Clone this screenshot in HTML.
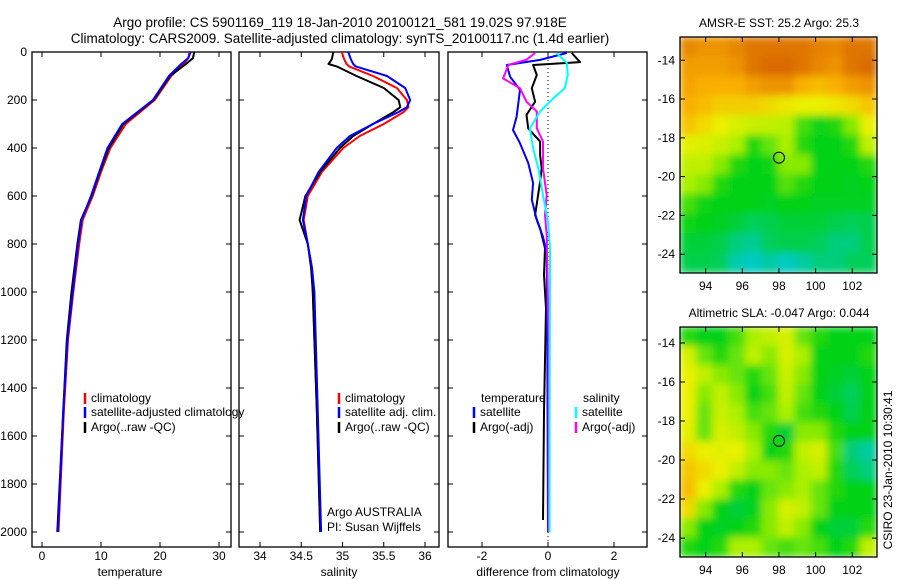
<!DOCTYPE html>
<html><head><meta charset="utf-8">
<style>
html,body{margin:0;padding:0;background:#fff;}
svg{display:block;font-family:"Liberation Sans",sans-serif;}
text{font-size:12px;fill:#000;}
</style></head>
<body>
<svg id="fig" width="900" height="580" viewBox="0 0 900 580">
<defs>
<filter id="blur" x="0" y="0" width="1" height="1"><feGaussianBlur stdDeviation="4" edgeMode="duplicate"/></filter>
<clipPath id="clipMap1"><rect x="680" y="37" width="197" height="236"/></clipPath>
<clipPath id="clipMap2"><rect x="680" y="327" width="197" height="230"/></clipPath>
<clipPath id="clipP1"><rect x="32" y="52" width="199" height="495"/></clipPath>
<clipPath id="clipP2"><rect x="239" y="52" width="200" height="495"/></clipPath>
<clipPath id="clipP3"><rect x="448" y="52" width="199" height="495"/></clipPath>
</defs>
<text x="340" y="27" text-anchor="middle" style="font-size:13.5px">Argo profile: CS 5901169_119 18-Jan-2010 20100121_581 19.02S 97.918E</text>
<text x="340" y="43" text-anchor="middle" style="font-size:13.5px">Climatology: CARS2009. Satellite-adjusted climatology: synTS_20100117.nc (1.4d earlier)</text>
<text transform="translate(892,470) rotate(-90)" text-anchor="middle">CSIRO 23-Jan-2010 10:30:41</text>
</svg>
<script>
// ---------- data ----------
const tDepth = [0,25,50,100,200,300,400,500,600,700,800,1000,1200,1500,2000];
const tClim  = [25.0,24.8,24.0,21.9,19.1,14.2,11.6,10.0,8.6,6.9,6.3,5.3,4.4,3.7,2.8];
const tSat   = [25.2,24.8,23.6,21.5,18.8,13.6,11.1,9.7,8.3,6.7,6.1,5.2,4.3,3.6,2.7];
const tArgo  = [25.8,25.6,24.4,21.7,18.9,13.8,11.3,9.8,8.4,6.6,6.0,5.0,4.2,3.6,2.6];
const sDepth = [0,30,50,60,100,150,200,230,250,300,350,400,500,600,700,800,900,1000,1500,2000];
const sClim  = [34.99,35.02,35.05,35.08,35.37,35.66,35.78,35.80,35.74,35.50,35.21,35.01,34.75,34.58,34.53,34.58,34.63,34.64,34.69,34.73];
const sSat   = [35.07,35.10,35.13,35.16,35.54,35.76,35.82,35.78,35.68,35.37,35.09,34.93,34.71,34.56,34.52,34.58,34.63,34.66,34.70,34.74];
const sArgo  = [34.89,34.87,34.83,34.93,35.17,35.50,35.68,35.70,35.62,35.37,35.13,34.97,34.73,34.55,34.48,34.58,34.62,34.64,34.69,34.73];
const dTempSatDepth = [4,33,54,103,158,270,325,380,462,546,616,700,770,840,1200,2000];
const dTempSat      = [0.57,-0.24,-1.25,-1.15,-0.85,-0.95,-1.06,-0.85,-0.6,-0.45,-0.49,-0.34,-0.15,-0.04,-0.02,0.0];
const dTempArgoDepth = [4,42,54,96,151,207,262,318,373,429,485,540,679,735,818,929,1068,1500,1950];
const dTempArgo      = [0.72,0.97,-0.45,-0.34,-0.49,-0.39,-0.65,-0.6,-0.24,-0.24,-0.19,-0.24,-0.39,-0.24,-0.09,-0.12,-0.06,-0.12,-0.15];
const dSalArgoDepth = [4,32,54,110,151,207,248,318,373,485,596,679,763,1200,2000];
const dSalArgo      = [-0.39,-0.65,-1.2,-1.36,-0.85,-0.65,-0.34,-0.34,-0.15,-0.15,-0.04,-0.09,-0.04,0.02,0.02];
const dSalSatDepth = [4,46,96,151,193,248,318,401,485,596,707,818,929,1500,2000];
const dSalSat      = [0.26,0.57,0.6,0.51,0.16,-0.24,-0.55,-0.45,-0.29,-0.15,0.0,0.06,0.06,0.05,0.05];
const depthTicks = [0,200,400,600,800,1000,1200,1400,1600,1800,2000];
const tempTicks = [0,10,20,30];
const salTicks = [34,34.5,35,35.5,36];
const salTickLabels = ["34","34.5","35","35.5","36"];
const diffTicks = [-2,0,2];
const lonTicks = [94,96,98,100,102];
const latTicks = [-14,-16,-18,-20,-22,-24];
const mapLon0 = 92.6, mapLon1 = 103.35;
const map1Lat0 = -12.8, map1Lat1 = -24.97;
const map2Lat0 = -13.18, map2Lat1 = -24.97;
const sstGrid = [
[.92,.9,.9,.92,.95,.95,.95,.95,.93,.92,.95,.95],
[.88,.88,.88,.9,.95,.97,.97,.95,.92,.9,.95,.97],
[.87,.85,.85,.85,.88,.9,.9,.85,.82,.85,.88,.9],
[.85,.82,.78,.78,.78,.75,.72,.7,.7,.72,.75,.8],
[.8,.75,.7,.65,.62,.6,.58,.4,.32,.35,.5,.7],
[.68,.66,.62,.55,.35,.45,.55,.35,.3,.3,.35,.6],
[.6,.6,.5,.35,.3,.32,.5,.5,.3,.3,.3,.35],
[.55,.5,.35,.3,.3,.3,.42,.35,.3,.3,.28,.3],
[.4,.32,.3,.3,.3,.28,.3,.3,.28,.28,.28,.28],
[.32,.3,.28,.25,.2,.22,.25,.25,.25,.22,.2,.22],
[.25,.25,.22,.15,.12,.2,.22,.22,.2,.15,.15,.22],
[.22,.22,.2,.08,.05,.1,.05,.1,.15,.15,.2,.2]];
const slaGrid = [
[.35,.3,.3,.4,.55,.6,.65,.45,.35,.3,.3,.3],
[.65,.45,.35,.45,.6,.5,.65,.55,.3,.3,.3,.35],
[.7,.6,.5,.45,.35,.45,.62,.5,.3,.28,.25,.3],
[.7,.5,.6,.5,.3,.4,.6,.45,.3,.25,.2,.3],
[.7,.45,.62,.55,.4,.45,.55,.4,.35,.3,.22,.3],
[.68,.45,.65,.6,.5,.35,.25,.5,.5,.35,.3,.3],
[.75,.7,.68,.7,.55,.3,.35,.6,.65,.4,.15,.1],
[.8,.75,.7,.6,.5,.5,.45,.55,.6,.35,.2,.15],
[.82,.7,.55,.35,.3,.45,.5,.55,.45,.35,.3,.3],
[.75,.5,.3,.25,.28,.5,.65,.6,.45,.3,.3,.3],
[.5,.3,.28,.3,.35,.5,.6,.5,.3,.25,.25,.35],
[.35,.3,.35,.55,.55,.45,.4,.45,.4,.3,.35,.6]];
const argoLon = 98.0, argoLat = -19.02;

// ---------- helpers ----------
const NS = "http://www.w3.org/2000/svg";
const svg = document.getElementById('fig');
function mk(tag, attrs, parent){const e=document.createElementNS(NS,tag);for(const k in attrs)e.setAttribute(k,attrs[k]);(parent||svg).appendChild(e);return e;}
function yDepth(d){return 52 + d*0.24;}
function xTemp(t){return 42 + t*5.9;}
function xSal(s){return 260 + (s-34)*82.5;}
function xDiff(v){return 548 + v*33;}
const MAPX=680, MAPW=197;
function mapX(lon){return MAPX + (lon-mapLon0)/(mapLon1-mapLon0)*MAPW;}
function mapY(lat,top,h,l0,l1){return top + (lat-l0)/(l1-l0)*h;}

function panel(x,w,name){
  mk('rect',{x:x,y:52,width:w,height:495,fill:'#fff',stroke:'#000','stroke-width':1.3,});
  depthTicks.forEach(d=>{const y=yDepth(d);
    const t=mk('path',{d:`M${x},${y}h5M${x+w},${y}h-5`,stroke:'#000','stroke-width':1});
    
    
  });
}
function line(depths, vals, xf, color, clip, name, w){
  const pts=depths.map((d,i)=>xf(vals[i]).toFixed(1)+','+yDepth(d).toFixed(1)).join(' ');
  const p=mk('polyline',{points:pts,fill:'none',stroke:color,'stroke-width':w||2,'clip-path':`url(#${clip})`,'stroke-linejoin':'round'});
  
  
}
function xticks(ticks,labels,xf,x,w,name){
  ticks.forEach((t,i)=>{const X=xf(t);
    mk('path',{d:`M${X},52v5M${X},547v-5`,stroke:'#000','stroke-width':1});
    const tx=mk('text',{x:X,y:560,'text-anchor':'middle'}); tx.textContent=labels[i];
    
    
  });
}
function legendEntry(x,y,color,label,name){
  mk('path',{d:`M${x},${y-9}v11`,stroke:color,'stroke-width':2.5});
  const t=mk('text',{x:x+6,y:y}); t.textContent=label;
  
  
}

// ---------- panel 1 temperature ----------
panel(32,199,'temperature-panel');
depthTicks.forEach(d=>{const t=mk('text',{x:27,y:yDepth(d)+4,'text-anchor':'end'});t.textContent=d;
  
  });
xticks(tempTicks,tempTicks.map(String),xTemp,32,199,'temperature');
line(tDepth,tClim,xTemp,'#f00','clipP1','temp-climatology-line');
line(tDepth,tArgo,xTemp,'#000','clipP1','temp-argo-line');
line(tDepth,tSat,xTemp,'#00f','clipP1','temp-satellite-line');
{const t=mk('text',{x:130,y:576,'text-anchor':'middle'});t.textContent='temperature';}

// ---------- panel 3 diff ----------
panel(448,199,'difference-panel');
xticks(diffTicks,diffTicks.map(String),xDiff,448,199,'difference');
mk('path',{d:`M${xDiff(0)},52V547`,stroke:'#000','stroke-width':1,'stroke-dasharray':'1,3'});
line(dTempArgoDepth,dTempArgo,xDiff,'#000','clipP3','diff-temp-argo-line');
line(dTempSatDepth,dTempSat,xDiff,'#00f','clipP3','diff-temp-satellite-line');
line(dSalArgoDepth,dSalArgo,xDiff,'#f0f','clipP3','diff-sal-argo-line');
line(dSalSatDepth,dSalSat,xDiff,'#0ff','clipP3','diff-sal-satellite-line');
{const t=mk('text',{x:548,y:576,'text-anchor':'middle'});t.textContent='difference from climatology';}
{const t=mk('text',{x:481,y:402});t.textContent='temperature';}
{const t=mk('text',{x:583,y:402});t.textContent='salinity';}
legendEntry(474,416,'#00f','satellite','legend-diff-temp-satellite');
legendEntry(474,431,'#000','Argo(-adj)','legend-diff-temp-argo');
legendEntry(576,416,'#0ff','satellite','legend-diff-sal-satellite');
legendEntry(576,431,'#f0f','Argo(-adj)','legend-diff-sal-argo');

// ---------- panel 2 salinity ----------
panel(239,200,'salinity-panel');
xticks(salTicks,salTickLabels,xSal,239,200,'salinity');
line(sDepth,sClim,xSal,'#f00','clipP2','sal-climatology-line');
line(sDepth,sArgo,xSal,'#000','clipP2','sal-argo-line');
line(sDepth,sSat,xSal,'#00f','clipP2','sal-satellite-line');
{const t=mk('text',{x:339,y:576,'text-anchor':'middle'});t.textContent='salinity';}
legendEntry(339,402,'#f00','climatology','legend-sal-climatology');
legendEntry(339,416,'#00f','satellite adj. clim.','legend-sal-satellite');
legendEntry(339,431,'#000','Argo(..raw -QC)','legend-sal-argo');
{const t=mk('text',{x:327,y:516});t.textContent='Argo AUSTRALIA';}
{const t=mk('text',{x:327,y:531});t.textContent='PI: Susan Wijffels';}
legendEntry(85,402,'#f00','climatology','legend-temp-climatology');
legendEntry(85,416,'#00f','satellite-adjusted climatology','legend-temp-satellite');
legendEntry(85,431,'#000','Argo(..raw -QC)','legend-temp-argo');

// ---------- maps ----------
function cmap(v){
  const stops=[[0,[0,200,230]],[0.3,[0,210,20]],[0.55,[170,240,0]],[0.7,[235,240,0]],[0.85,[250,175,0]],[1,[210,90,0]]];
  for(let i=1;i<stops.length;i++){if(v<=stops[i][0]){const a=stops[i-1],b=stops[i],f=(v-a[0])/(b[0]-a[0]);
    return 'rgb('+a[1].map((c,j)=>Math.round(c+(b[1][j]-c)*f)).join(',')+')';}}
  return 'rgb(210,90,0)';
}
function drawMap(grid,top,h,l0,l1,clip,name,title){
  const g=mk('g',{'clip-path':`url(#${clip})`});  
  const inner=mk('g',{filter:'url(#blur)'},g);
  const rows=grid.length, cols=grid[0].length;
  const dLon=(mapLon1-mapLon0)/cols, dLat=(l1-l0)/rows;
  grid.forEach((row,r)=>row.forEach((v,c)=>{
    const x0=mapX(mapLon0+c*dLon), x1=mapX(mapLon0+(c+1)*dLon);
    const y0=mapY(l0+r*dLat,top,h,l0,l1), y1=mapY(l0+(r+1)*dLat,top,h,l0,l1);
    const cell=mk('rect',{x:x0-0.5,y:y0-0.5,width:x1-x0+1,height:y1-y0+1,fill:cmap(v)},inner);
    
    
  }));
  mk('rect',{x:MAPX,y:top,width:MAPW,height:h,fill:'none',stroke:'#000','stroke-width':1.3});
  lonTicks.forEach(l=>{const X=mapX(l);
    mk('path',{d:`M${X},${top}v5M${X},${top+h}v-5`,stroke:'#000'});
    const t=mk('text',{x:X,y:top+h+17,'text-anchor':'middle'});t.textContent=l;
    });
  latTicks.forEach(l=>{const Y=mapY(l,top,h,l0,l1);
    mk('path',{d:`M${MAPX},${Y}h5M${MAPX+MAPW},${Y}h-5`,stroke:'#000'});
    const t=mk('text',{x:675,y:Y+4,'text-anchor':'end'});t.textContent=l;
    });
  const c=mk('circle',{cx:mapX(argoLon),cy:mapY(argoLat,top,h,l0,l1),r:5.5,fill:'none',stroke:'#000','stroke-width':1});
   
  const t=mk('text',{x:779,y:top-10,'text-anchor':'middle'});t.textContent=title;
  
}
drawMap(sstGrid,37,236,map1Lat0,map1Lat1,'clipMap1','sst-map','AMSR-E SST: 25.2 Argo: 25.3');
drawMap(slaGrid,327,230,map2Lat0,map2Lat1,'clipMap2','sla-map','Altimetric SLA: -0.047 Argo: 0.044');
</script>
</body></html>
